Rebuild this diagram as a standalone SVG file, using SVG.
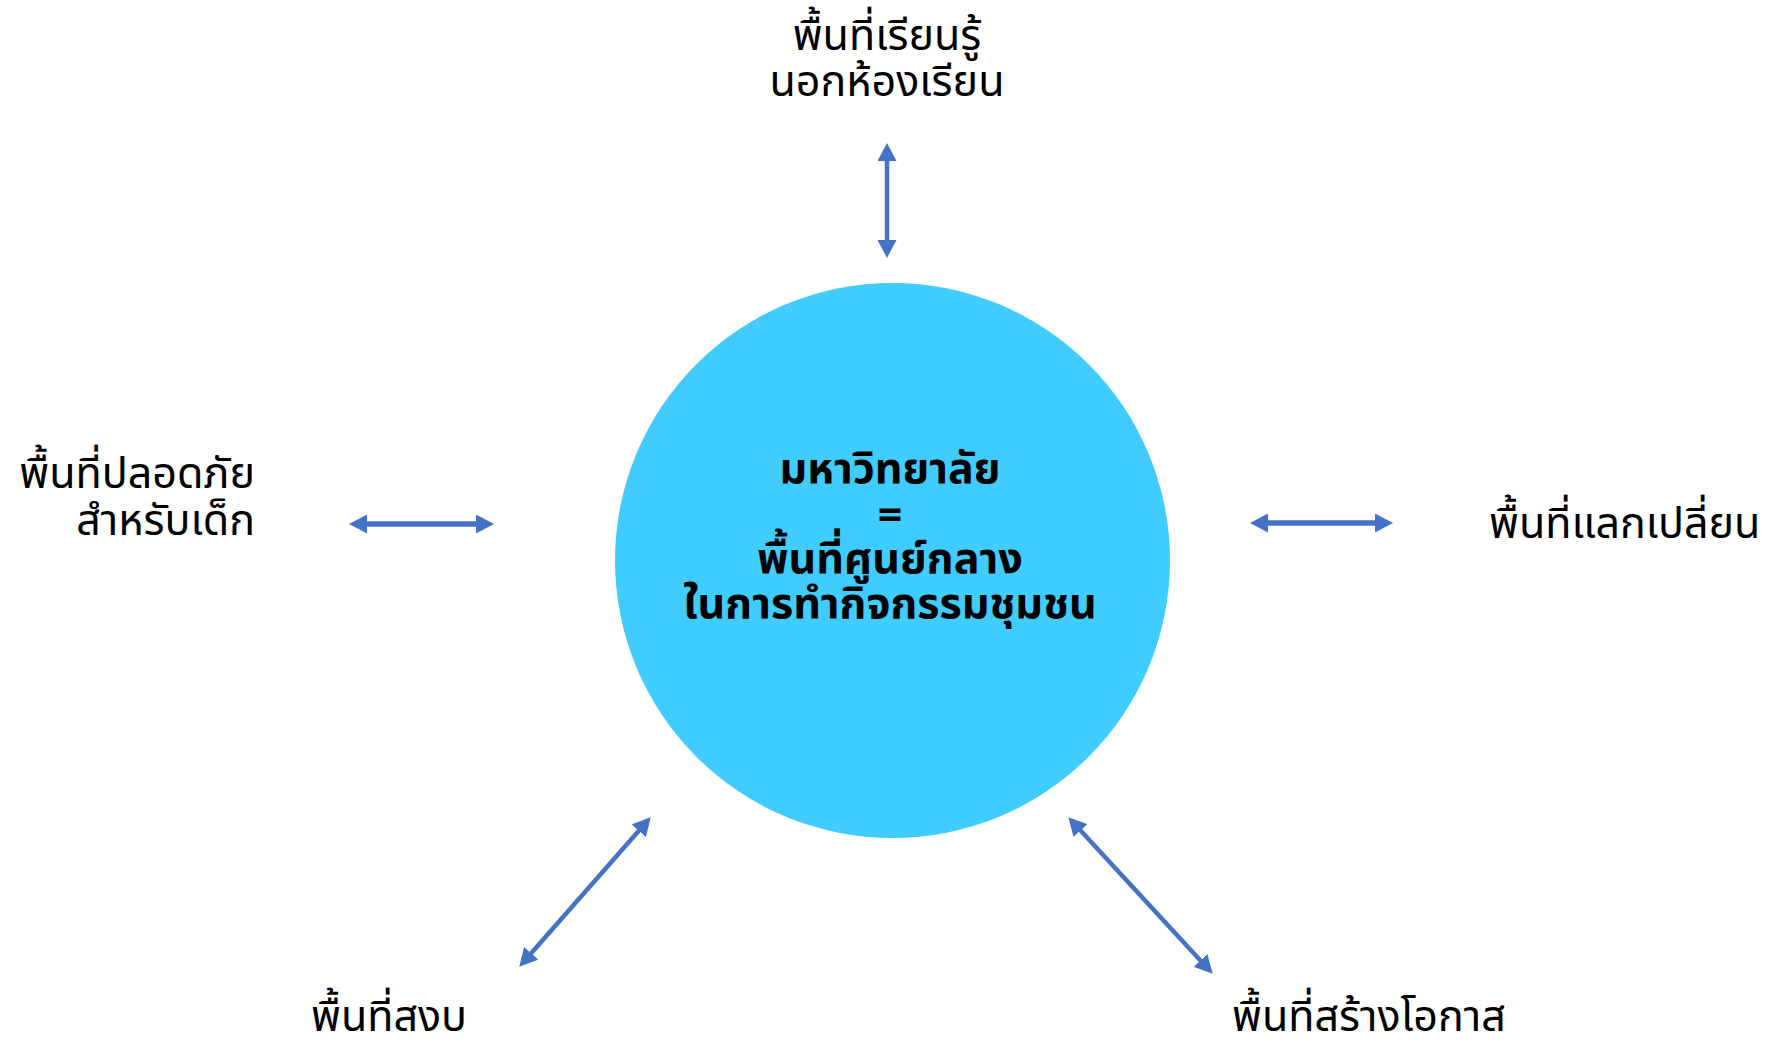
<svg xmlns="http://www.w3.org/2000/svg" width="1776" height="1041" viewBox="0 0 1776 1041">
<style>
.lbl{font-family:"Noto Sans Thai","Noto Sans","Leelawadee UI",Tahoma,sans-serif;font-size:43px;fill:#000}
.ctr{font-family:"Noto Sans Thai","Noto Sans","Leelawadee UI",Tahoma,sans-serif;font-size:43px;font-weight:bold;fill:#000;text-anchor:middle}
.conn{stroke:#4472C4;stroke-width:4.5;fill:none;marker-start:url(#ah);marker-end:url(#ah)}
</style>
<defs>
<marker id="ah" markerUnits="userSpaceOnUse" markerWidth="18" markerHeight="19" refX="3" refY="9.5" orient="auto-start-reverse" viewBox="0 0 18 19">
<path d="M0,0 L18,9.5 L0,19 z" fill="#4472C4"/>
</marker>
</defs>
<rect width="1776" height="1041" fill="#fff"/>
<g id="center">
<circle cx="892.5" cy="560.5" r="277.5" fill="#40CCFF"/>
<text class="ctr" x="890" y="483">มหาวิทยาลัย</text>
<text class="ctr" x="890" y="530">=</text>
<text class="ctr" x="890" y="573">พื้นที่ศูนย์กลาง</text>
<text class="ctr" x="890" y="618">ในการทำกิจกรรมชุมชน</text>
</g>
<g id="top">
<text class="lbl" x="887" y="50" text-anchor="middle">พื้นที่เรียนรู้</text>
<text class="lbl" x="887" y="96" text-anchor="middle">นอกห้องเรียน</text>
</g>
<g id="left">
<text class="lbl" x="255" y="488" text-anchor="end">พื้นที่ปลอดภัย</text>
<text class="lbl" x="255" y="535" text-anchor="end">สำหรับเด็ก</text>
</g>
<g id="right">
<text class="lbl" x="1489" y="538">พื้นที่แลกเปลี่ยน</text>
</g>
<g id="bottomleft">
<text class="lbl" x="311" y="1031">พื้นที่สงบ</text>
</g>
<g id="bottomright">
<text class="lbl" x="1232" y="1031">พื้นที่สร้างโอกาส</text>
</g>
<g id="connectors">
<line class="conn" x1="887" y1="158" x2="887" y2="243"/>
<line class="conn" style="stroke-width:5.5" x1="364" y1="524" x2="479" y2="524"/>
<line class="conn" style="stroke-width:5.5" x1="1265" y1="523" x2="1378" y2="523"/>
<line class="conn" x1="640.8" y1="828.5" x2="529.2" y2="955.5"/>
<line class="conn" x1="1078.5" y1="828.3" x2="1202.5" y2="962.7"/>
</g>
</svg>
